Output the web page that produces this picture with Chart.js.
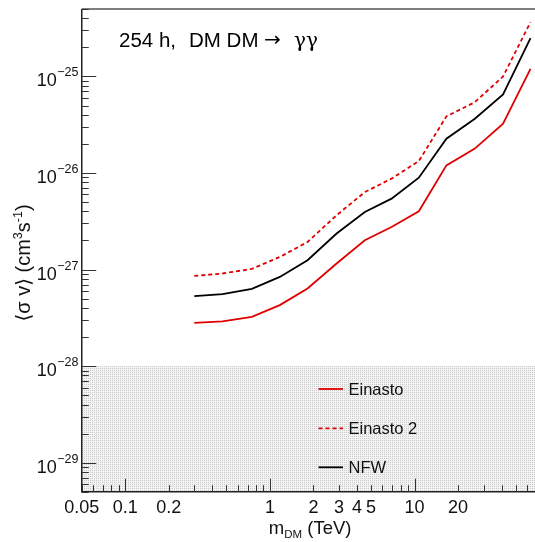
<!DOCTYPE html>
<html>
<head>
<meta charset="utf-8">
<script src="https://cdn.jsdelivr.net/npm/chart.js@4.4.0/dist/chart.umd.min.js"></script>
<style>
  html, body { margin: 0; padding: 0; background: #fff; overflow: hidden; }
  #wrap { width: 535px; height: 542px; position: relative; }
</style>
</head>
<body>
<div id="wrap"><canvas id="c" width="535" height="542"></canvas></div>
<script>
// ---- data ----
const massTeV  = [0.30, 0.47, 0.75, 1.17, 1.82, 2.89, 4.53, 6.93, 10.7, 16.6, 26.1, 40.9, 63.3];
const einasto  = [2.81e-28, 2.90e-28, 3.24e-28, 4.28e-28, 6.37e-28, 1.155e-27, 2.01e-27, 2.76e-27, 4.01e-27, 1.20e-26, 1.79e-26, 3.24e-26, 1.20e-25];
const einasto2 = [8.59e-28, 9.10e-28, 1.016e-27, 1.35e-27, 1.93e-27, 3.65e-27, 6.35e-27, 8.75e-27, 1.33e-26, 3.86e-26, 5.42e-26, 1.00e-25, 3.65e-25];
const nfw      = [5.30e-28, 5.56e-28, 6.31e-28, 8.39e-28, 1.25e-27, 2.36e-27, 3.95e-27, 5.43e-27, 8.95e-27, 2.27e-26, 3.65e-26, 6.51e-26, 2.49e-25];
const shadeLevel = 1e-28;
const xTickLabels = ['0.05', '0.1', '0.2', '1', '2', '3', '4', '5', '10', '20'];
const yTickExponents = [-25, -26, -27, -28, -29];
const xMin = 0.05, xMax = 68, yMin = 5e-30, yMax = 5e-25;
const seriesNames = ['Einasto', 'Einasto 2', 'NFW'];
const titleParts = ['254 h,', 'DM DM', '\u2192', '\u03b3\u03b3'];

const FONT = '"Liberation Sans", Arial, "DejaVu Sans", sans-serif';
const RED = '#e00000';

function pts(xs, ys) { return xs.map((x, i) => ({ x: x, y: ys[i] })); }

// stipple pattern for the shaded region
const pc = document.createElement('canvas');
pc.width = 2; pc.height = 2;
const pctx = pc.getContext('2d');
pctx.fillStyle = '#f3f3f3'; pctx.fillRect(0, 0, 2, 2);
pctx.fillStyle = '#cbcbcb'; pctx.fillRect(0, 0, 1, 1);
const shadePattern = pctx.createPattern(pc, 'repeat');

const overlay = {
  id: 'overlay',
  afterDraw(chart) {
    const ctx = chart.ctx;
    const xs = chart.scales.x, ys = chart.scales.y;
    const a = chart.chartArea;
    ctx.save();

    // top frame line
    ctx.strokeStyle = '#555';
    ctx.lineWidth = 1.6;
    ctx.beginPath(); ctx.moveTo(a.left, a.top); ctx.lineTo(535, a.top); ctx.stroke();

    // axes lines
    ctx.strokeStyle = '#222';
    ctx.lineWidth = 1.5;
    ctx.beginPath();
    ctx.moveTo(a.left, a.top); ctx.lineTo(a.left, a.bottom); ctx.lineTo(535, a.bottom);
    ctx.stroke();

    // x ticks (inward)
    ctx.lineWidth = 1;
    ctx.strokeStyle = '#333';
    for (let e = -2; e <= 1; e++) {
      for (let m = 1; m <= 9; m++) {
        const v = m * Math.pow(10, e);
        if (v < xMin * 0.999 || v > xMax) continue;
        const px = Math.round(xs.getPixelForValue(v)) + 0.5;
        const len = (m === 1) ? 13 : 6.5;
        ctx.beginPath(); ctx.moveTo(px, a.bottom); ctx.lineTo(px, a.bottom - len); ctx.stroke();
      }
    }
    // y ticks (inward)
    for (let e = -30; e <= -25; e++) {
      for (let m = 1; m <= 9; m++) {
        const v = m * Math.pow(10, e);
        if (v < yMin * 0.999 || v > yMax * 1.001) continue;
        const py = Math.round(ys.getPixelForValue(v)) + 0.5;
        const len = (m === 1) ? 14.5 : 7;
        ctx.beginPath(); ctx.moveTo(a.left, py); ctx.lineTo(a.left + len, py); ctx.stroke();
      }
    }

    ctx.fillStyle = '#111';
    // x tick labels
    ctx.font = '18px ' + FONT;
    ctx.textAlign = 'center';
    ctx.textBaseline = 'alphabetic';
    xTickLabels.forEach(t => {
      const px = xs.getPixelForValue(parseFloat(t));
      ctx.fillText(t, px, 513);
    });

    // y tick labels 10^e
    yTickExponents.forEach(e => {
      const py = ys.getPixelForValue(Math.pow(10, e));
      const sup = '\u2212' + Math.abs(e);
      ctx.font = '12.5px ' + FONT;
      ctx.textAlign = 'right';
      ctx.fillText(sup, 78.5, py);
      const w = ctx.measureText(sup).width;
      ctx.font = '18px ' + FONT;
      ctx.fillText('10', 78.5 - w - 0.5, py + 10);
    });

    // x axis title: m_DM (TeV)
    {
      ctx.textAlign = 'left';
      const parts = [['m', 18.5, 0], ['DM', 11.5, 4], [' (TeV)', 18.5, 0]];
      let total = 0;
      parts.forEach(p => { ctx.font = p[1] + 'px ' + FONT; total += ctx.measureText(p[0]).width; });
      let x = 351.5 - total;
      parts.forEach(p => {
        ctx.font = p[1] + 'px ' + FONT;
        ctx.fillText(p[0], x, 534 + p[2]);
        x += ctx.measureText(p[0]).width;
      });
    }

    // y axis title: <sigma v> (cm^3 s^-1)
    {
      ctx.save();
      ctx.translate(30, 263);
      ctx.rotate(-Math.PI / 2);
      ctx.textAlign = 'left';
      const parts = [['\u27e8\u03c3 v\u27e9 (cm', 20, 0], ['3', 12.5, -8], ['s', 20, 0], ['-1', 12.5, -8], [')', 20, 0]];
      let total = 0;
      parts.forEach(p => { ctx.font = p[1] + 'px ' + FONT; total += ctx.measureText(p[0]).width; });
      let x = -total / 2;
      parts.forEach(p => {
        ctx.font = p[1] + 'px ' + FONT;
        ctx.fillText(p[0], x, p[2]);
        x += ctx.measureText(p[0]).width;
      });
      ctx.restore();
    }

    // plot title
    ctx.textAlign = 'left';
    ctx.font = '20.5px ' + FONT;
    ctx.fillStyle = '#000';
    ctx.fillText(titleParts[0], 119, 47);
    ctx.fillText(titleParts[1], 189, 47);
    ctx.font = '20px "DejaVu Sans", ' + FONT;
    ctx.fillText(titleParts[2], 264, 46);
    ctx.font = '20px "DejaVu Serif", serif';
    ctx.fillText(titleParts[3], 294, 47);

    // legend
    const legendY = [389, 428.3, 467.3];
    chart.data.datasets.slice(0, 3).forEach((ds, i) => {
      const y = legendY[i];
      ctx.strokeStyle = ds.borderColor;
      ctx.lineWidth = ds.borderWidth;
      ctx.setLineDash(ds.borderDash || []);
      ctx.beginPath(); ctx.moveTo(318.5, y); ctx.lineTo(343, y); ctx.stroke();
      ctx.setLineDash([]);
      ctx.fillStyle = '#111';
      ctx.font = '16.5px ' + FONT;
      ctx.fillText(ds.label, 348.5, y + 6);
    });

    ctx.restore();
  }
};

new Chart(document.getElementById('c'), {
  type: 'line',
  data: {
    datasets: [
      { label: seriesNames[0], data: pts(massTeV, einasto), borderColor: RED, borderWidth: 1.8, pointRadius: 0, fill: false, tension: 0 },
      { label: seriesNames[1], data: pts(massTeV, einasto2), borderColor: RED, borderWidth: 1.8, borderDash: [4, 3], pointRadius: 0, fill: false, tension: 0 },
      { label: seriesNames[2], data: pts(massTeV, nfw), borderColor: '#000', borderWidth: 1.8, pointRadius: 0, fill: false, tension: 0 },
      { label: 'shade', data: [{ x: xMin, y: shadeLevel }, { x: xMax, y: shadeLevel }], borderWidth: 0, borderColor: 'rgba(0,0,0,0)', backgroundColor: shadePattern, pointRadius: 0, fill: 'start', tension: 0 }
    ]
  },
  options: {
    responsive: false,
    animation: false,
    events: [],
    layout: { padding: { left: 81.75, top: 9, right: 0, bottom: 50.3 } },
    plugins: { legend: { display: false }, tooltip: { enabled: false }, title: { display: false } },
    scales: {
      x: { type: 'logarithmic', display: false, min: xMin, max: xMax },
      y: { type: 'logarithmic', display: false, min: yMin, max: yMax }
    }
  },
  plugins: [overlay]
});
</script>
</body>
</html>
